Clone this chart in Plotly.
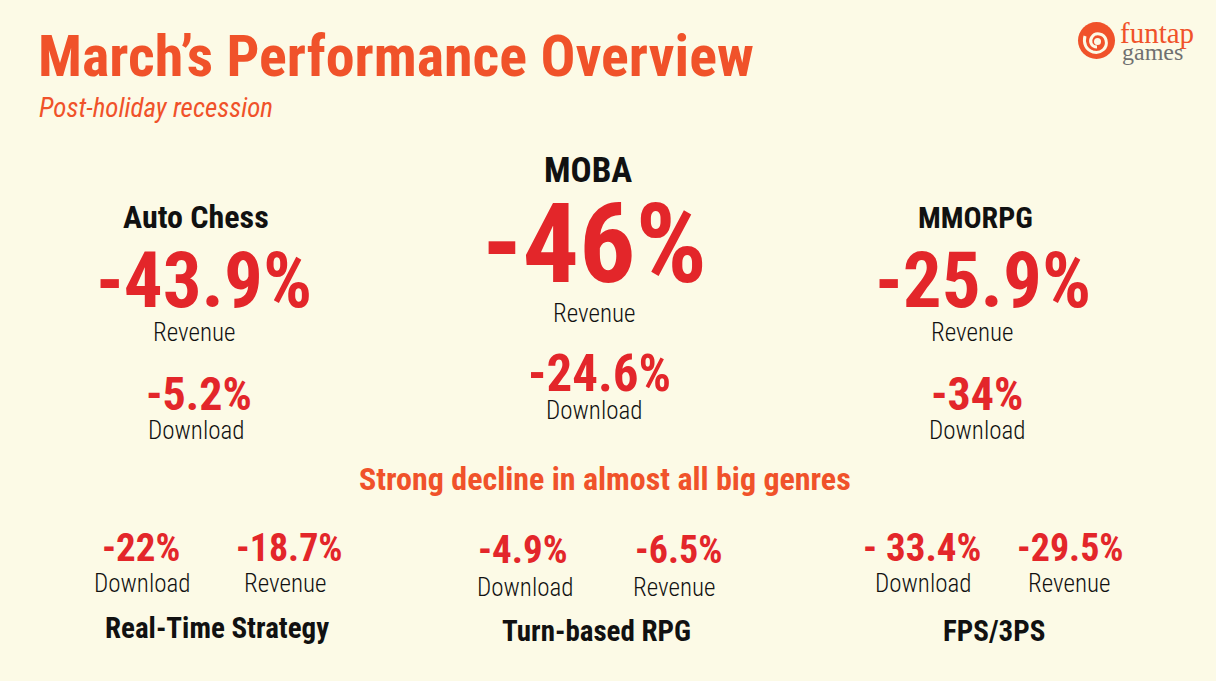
import plotly.graph_objects as go

W, H = 1216, 681
BG = "#FCFAE6"
ORANGE = "#F0522A"
RED = "#E3262A"
BLACK = "#111111"
FONT = "Roboto Condensed, Open Sans Condensed, sans-serif"
SERIF = "Liberation Serif, DejaVu Serif, serif"

title = "March’s Performance Overview"
subtitle = "Post-holiday recession"
headline = "Strong decline in almost all big genres"

# Top genres
top_genres = ["Auto Chess", "MOBA", "MMORPG"]
top_revenue = ["-43.9%", "-46%", "-25.9%"]
top_download = ["-5.2%", "-24.6%", "-34%"]

# Bottom genres
bottom_genres = ["Real-Time Strategy", "Turn-based RPG", "FPS/3PS"]
bottom_download = ["-22%", "-4.9%", "- 33.4%"]
bottom_revenue = ["-18.7%", "-6.5%", "-29.5%"]

fig = go.Figure()
fig.add_trace(go.Scatter(x=[0, W], y=[0, H], mode="markers", marker=dict(opacity=0),
                         hoverinfo="skip", showlegend=False))

ann = []
def t(x, y, text, size, color, weight=400, style="normal", xanchor="center", family=FONT):
    ann.append(dict(x=x, y=y, xref="x", yref="y", text=text, showarrow=False,
                    xanchor=xanchor, yanchor="middle",
                    font=dict(family=family, size=size, color=color, weight=weight, style=style)))

t(36, 56, title, 58, ORANGE, weight=700, xanchor="left")
t(37, 108, subtitle, 27, ORANGE, weight=400, style="italic", xanchor="left")

# layout of top blocks: x centres (genre, revenue, rev label, download, dl label)
top_xs = [(196, 204, 194, 199, 196), (588, 594, 594, 599, 594), (975, 983, 972, 977, 977)]
side_y = (217, 281, 332, 394, 430)
mid_y = (170, 243, 313, 373, 410)
genre_size = [32, 35, 30]
for i, g in enumerate(top_genres):
    xs = top_xs[i]
    ys = mid_y if i == 1 else side_y
    t(xs[0], ys[0], g, genre_size[i], BLACK, weight=700)
    t(xs[1], ys[1], top_revenue[i], 112 if i == 1 else 77, RED, weight=700)
    t(xs[2], ys[2], "Revenue", 25, BLACK, weight=300)
    t(xs[3], ys[3], top_download[i], 51 if i == 1 else 46, RED, weight=700)
    t(xs[4], ys[4], "Download", 25, BLACK, weight=300)

t(605, 479, headline, 32, ORANGE, weight=700)

# bottom blocks: x centres (download value, download label, revenue value, revenue label, genre)
bot_xs = [(141, 142, 289, 285, 217), (523, 525, 678, 674, 596), (922, 923, 1070, 1069, 994)]
bot_y = [(548, 583, 628), (550, 587, 631), (548, 583, 631)]
for i in range(3):
    xs = bot_xs[i]
    ys = bot_y[i]
    t(xs[0], ys[0], bottom_download[i], 39, RED, weight=700)
    t(xs[1], ys[1], "Download", 25, BLACK, weight=300)
    t(xs[2], ys[0], bottom_revenue[i], 38, RED, weight=700)
    t(xs[3], ys[1], "Revenue", 25, BLACK, weight=300)
    t(xs[4], ys[2], bottom_genres[i], 29, BLACK, weight=700)

# logo
t(1118, 33, "funtap", 29, ORANGE, xanchor="left", family=SERIF)
t(1120, 52, "games", 24, "#707070", xanchor="left", family=SERIF)

shapes = [
    dict(type="circle", xref="x", yref="y", x0=1078, x1=1115, y0=22, y1=59, fillcolor=ORANGE, line=dict(width=0)),
    dict(type="path", xref="x", yref="y",
         path="M 1097 47 C 1091 47 1089 41 1092 37 C 1095 32 1104 33 1106 40 C 1108 48 1101 54 1093 52 C 1086 50 1083 43 1085 36",
         line=dict(color=BG, width=3), fillcolor="rgba(0,0,0,0)"),
    dict(type="circle", xref="x", yref="y", x0=1094, x1=1101, y0=38, y1=45, fillcolor=BG, line=dict(width=0)),
]

fig.update_layout(
    width=W, height=H, margin=dict(l=0, r=0, t=0, b=0),
    paper_bgcolor=BG, plot_bgcolor=BG,
    xaxis=dict(range=[0, W], visible=False, fixedrange=True),
    yaxis=dict(range=[H, 0], visible=False, fixedrange=True),
    annotations=ann, shapes=shapes, showlegend=False,
)
fig.write_html("out.html", config={"displayModeBar": False},
               post_script="document.body.style.margin='0';")
